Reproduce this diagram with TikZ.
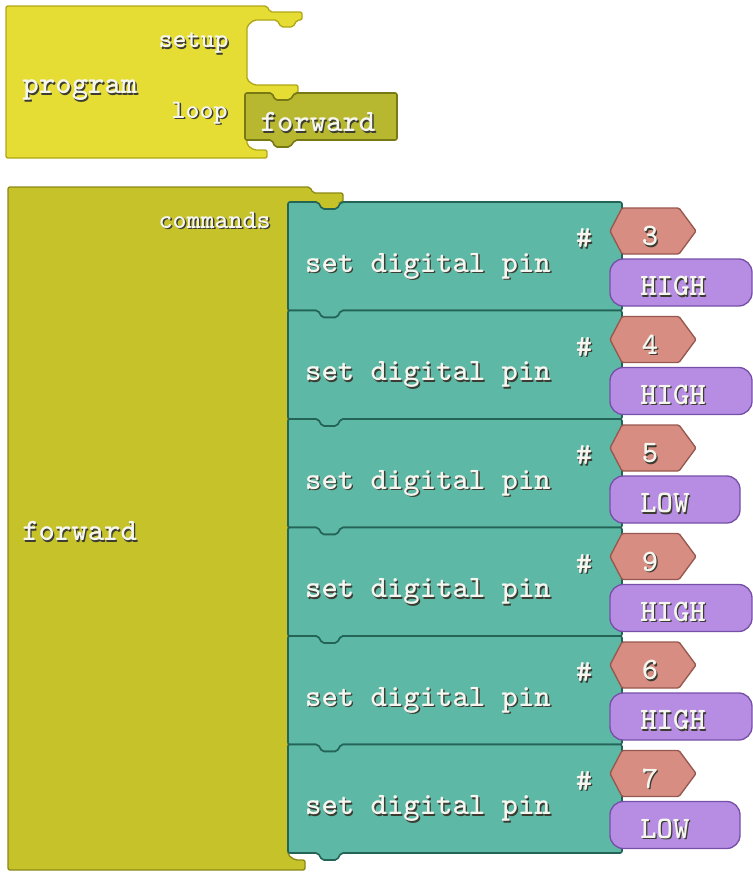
\documentclass[tikz,border=0pt]{standalone}
\usepackage{fontspec}
\usepackage{tikz}
\usetikzlibrary{calc}
\definecolor{progyel}{RGB}{230,221,52}
\definecolor{progedge}{RGB}{176,166,22}
\definecolor{procol}{RGB}{197,194,42}
\definecolor{procedge}{RGB}{140,136,20}
\definecolor{callcol}{RGB}{184,184,48}
\definecolor{calledge}{RGB}{120,120,20}
\definecolor{setcol}{RGB}{93,184,166}
\definecolor{setedge}{RGB}{36,100,86}
\definecolor{pincol}{RGB}{216,141,131}
\definecolor{pinedge}{RGB}{150,88,78}
\definecolor{lvlcol}{RGB}{182,141,226}
\definecolor{lvledge}{RGB}{118,80,168}
\definecolor{txtwht}{RGB}{246,246,240}
\definecolor{txtshd}{RGB}{60,60,50}
\newcommand\shd[1]{\rlap{\kern1pt\raisebox{-1pt}{\color{txtshd}#1}}#1}

\begin{document}
\begin{tikzpicture}[x=0.75pt,y=-0.75pt,
    lbl/.style={text=txtwht,font=\ttfamily\bfseries\fontsize{23.4}{25}\selectfont,inner sep=0pt},
    slbl/.style={lbl,font=\ttfamily\bfseries\fontsize{20}{22}\selectfont},
    progblk/.style={fill=progyel,draw=progedge,line width=1pt,rounded corners=1.5pt},
    procblk/.style={fill=procol,draw=procedge,line width=1pt,rounded corners=1.5pt},
    callblk/.style={fill=callcol,draw=calledge,line width=1.2pt,rounded corners=1.5pt},
    setblk/.style={fill=setcol,draw=setedge,line width=1.2pt,rounded corners=1.5pt},
    pinblk/.style={fill=pincol,draw=pinedge,line width=1pt,rounded corners=1pt},
    lvlblk/.style={fill=lvlcol,draw=lvledge,line width=1pt,rounded corners=10pt}]
\useasboundingbox (0,0) rectangle (753,872);

\draw[progblk] (6,6) -- (267,6) -- (270,12) -- (302,12) -- (302,20) -- (297,20) -- (293,27) -- (281,27) -- (277,20) -- (254,20) -- (247,26) -- (247,80) -- (254,85) -- (298,85) -- (298,93) -- (295,93) -- (290,100) -- (275,100) -- (272,93) -- (254,93) -- (247,99) -- (247,145) -- (254,150) -- (267,150) -- (267,158) -- (6,158) -- cycle;
\draw[callblk] (245,93) -- (272,93) -- (275,100) -- (290,100) -- (295,93) -- (397,93) -- (397,140) -- (295,140) -- (290,147) -- (275,147) -- (272,140) -- (245,140) -- cycle;
\node[lbl] (prog) at (80,91) {\shd{program}};
\node[slbl,anchor=east] (setupl) at (229,44) {\shd{setup}};
\node[slbl,anchor=east] (loopl) at (228,114) {\shd{loop}};
\node[lbl] (fwdcall) at (318,123) {\shd{forward}};

\draw[procblk] (8,187) -- (310,187) -- (313,193) -- (343,193) -- (343,202) -- (341,202) -- (337,209) -- (322,209) -- (318,202) -- (295,202) -- (288,208) -- (288,855) -- (295,860) -- (305,860) -- (305,870) -- (8,870) -- cycle;
\node[slbl,anchor=east] (cmdl) at (271,221) {\shd{commands}};
\node[lbl,anchor=west] (fwdl) at (22,532) {\shd{forward}};

\foreach \p/\v/\w [count=\i from 0] in {3/HIGH/142,4/HIGH/142,5/LOW/130,9/HIGH/142,6/HIGH/142,7/LOW/130}{
    \pgfmathsetmacro\t{202+108.5*\i}
    \draw[setblk] (288,\t) -- (318,\t) -- (322,\t+7) -- (337,\t+7) -- (341,\t) -- (622,\t) -- (622,\t+108.5) -- (341,\t+108.5) -- (337,\t+115.5) -- (322,\t+115.5) -- (318,\t+108.5) -- (288,\t+108.5) -- cycle;
    \node[lbl] (set\i) at (428,\t+65) {\shd{set digital pin}};
    \node[lbl] (hash\i) at (584,\t+37) {\shd{\#}};
    \draw[pinblk] (610,\t+29) -- (622,\t+6) -- (679,\t+6) -- (696,\t+29) -- (679,\t+52) -- (622,\t+52) -- cycle;
    \node[lbl] (pin\i) at (650,\t+35) {\shd{\p}};
    \draw[lvlblk] (610,\t+57) rectangle (610+\w,\t+104);
    \node[lbl,anchor=west] (lvl\i) at (640,\t+85) {\shd{\v}};
}

\end{tikzpicture}
\end{document}
